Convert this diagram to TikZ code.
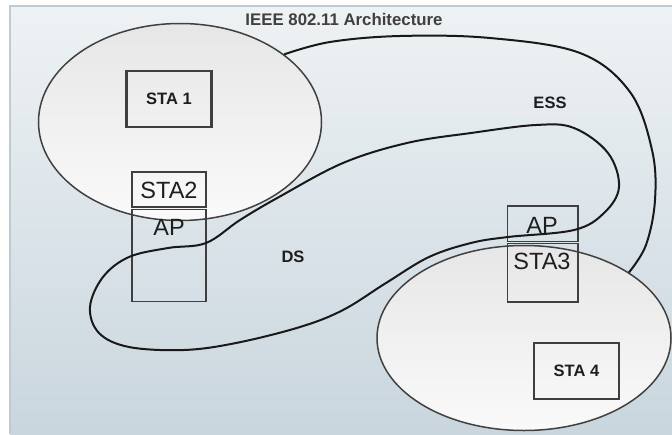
\documentclass[tikz,border=0pt]{standalone}
\usepackage{fontspec}
\setmainfont{Liberation Sans}
\usetikzlibrary{shapes.geometric}
\definecolor{panelTop}{HTML}{EEF2F4}
\definecolor{panelBot}{HTML}{C9D6DE}
\definecolor{panelEdge}{HTML}{BFCBD3}
\definecolor{ellFill}{HTML}{F2F2F2}
\definecolor{ellEdge}{HTML}{404040}
\definecolor{boxEdge}{HTML}{3F3F3F}
\definecolor{inkText}{HTML}{1E1E1E}
\tikzset{
  bss/.style={ellipse, draw=ellEdge, line width=1.5pt, top color=ellFill!90!gray, bottom color=ellFill!40!white, inner sep=0pt},
  stabox/.style={draw=boxEdge, line width=2.3pt, inner sep=0pt, text=inkText,
     font=\fontsize{16.5}{18}\selectfont\bfseries},
  cell/.style={draw=boxEdge, line width=1.8pt, inner sep=0pt, minimum width=73.5pt, text=inkText},
  bigtxt/.style={text=inkText, font=\fontsize{23.5}{25}\selectfont, inner sep=0pt},
  lbl/.style={text=inkText, font=\fontsize{16.5}{18}\selectfont\bfseries, inner sep=0pt},
  curveline/.style={draw=black!90, line width=2pt, line join=round}
}
\begin{document}
\begin{tikzpicture}[x=1pt,y=-1pt]
\useasboundingbox (0,0) rectangle (672,434);
% background panel
\shade[top color=panelTop, bottom color=panelBot] (10,6) rectangle (672,434);
\draw[panelEdge, line width=1.5pt] (10,434) -- (10,6) -- (672,6);
\node[lbl, text=black!75, font=\fontsize{16.8}{18}\selectfont\bfseries] (title) at (344,19) {IEEE 802.11 Architecture};

% BSS ellipses
\node[bss, minimum width=283pt, minimum height=197pt] (bss1) at (180,122) {};
\node[bss, minimum width=294pt, minimum height=185pt] (bss2) at (524,338) {};

% stations
\node[stabox, minimum width=85pt, minimum height=56pt] (sta1) at (169,99) {STA 1};
\node[stabox, minimum width=85.5pt, minimum height=56pt] (sta4) at (576.5,371) {STA 4};

% STA2 / AP
\node[cell, minimum height=35pt] (sta2cell) at (169,189.5) {};
\node[cell, minimum height=92pt] (ap1cell) at (169,255.5) {};
\node[bigtxt] (sta2txt) at (169,190) {STA2};
\node[bigtxt] (ap1txt) at (169,227) {AP};

% AP / STA3
\node[cell, minimum width=70.5pt, minimum height=35.5pt] (ap2cell) at (542.75,223.75) {};
\node[cell, minimum width=70.5pt, minimum height=58.5pt] (sta3cell) at (542.75,272.75) {};
\node[bigtxt] (ap2txt) at (542,225) {AP};
\node[bigtxt] (sta3txt) at (542,261.5) {STA3};

% ESS curve
\coordinate (essA) at (bss1.33);
\coordinate (essB) at (bss2.32);
\draw[curveline] plot[smooth, tension=0.6] coordinates {(essA) (330,42) (400,36) (490,38) (580,53) (630,92) (652,150) (655,200) (646,245) (essB)};
\node[lbl] (ess) at (550,103) {ESS};

% DS curve
\draw[curveline] plot[smooth cycle, tension=0.6] coordinates {
 (536,125) (574,128) (608,153) (619,187) (604,213) (574,230) (508,237)
 (471,243) (429,257) (386,283) (343,310) (300,327) (236,343) (184,350)
 (129,347) (99,333) (90,307) (103,277) (129,257) (168,248) (206,243)
 (240,220) (279,197) (343,163) (407,143) (471,133)};
\node[lbl] (ds) at (293,257) {DS};
\end{tikzpicture}
\end{document}
